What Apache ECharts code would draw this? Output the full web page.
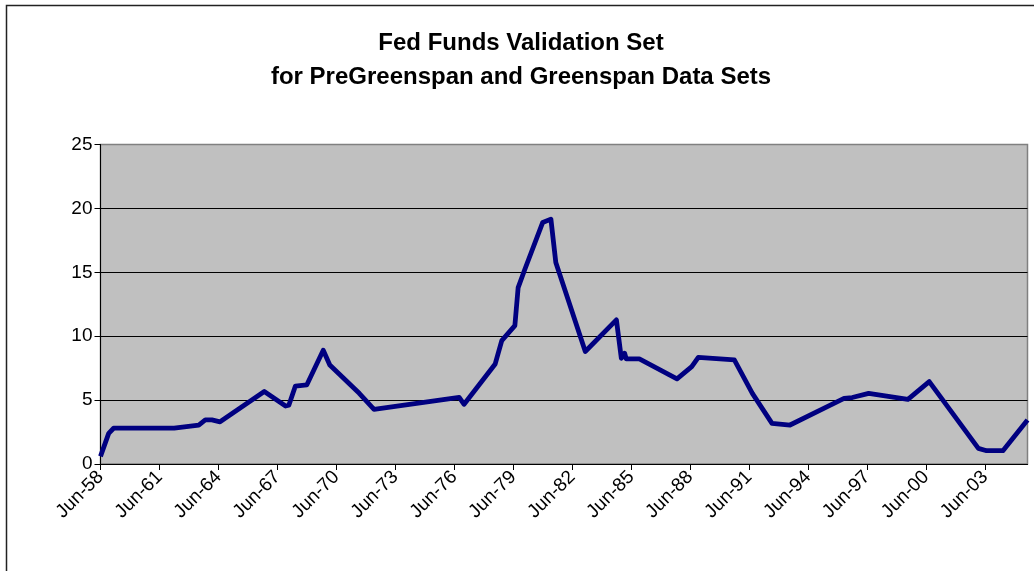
<!DOCTYPE html>
<html>
<head>
<meta charset="utf-8">
<script src="https://cdn.jsdelivr.net/npm/echarts@6/dist/echarts.min.js"></script>
<style>
html,body{margin:0;padding:0;background:#fff;}
#chart{width:1034px;height:571px;}
</style>
</head>
<body>
<div id="chart"></div>
<script>
const dates = ['1958-06','1958-11','1959-02','1962-03','1963-06','1963-10','1964-02','1964-07',
  '1966-10','1967-11','1968-01','1968-05','1968-12','1969-10','1970-02','1971-08','1972-05',
  '1976-09','1976-12','1978-07','1978-11','1979-07','1979-09','1980-01','1980-12','1981-05',
  '1981-08','1983-02','1984-09','1984-12','1985-02','1985-03','1985-11','1987-10','1988-07',
  '1988-11','1990-09','1991-08','1992-08','1993-07','1996-04','1996-09','1997-07','1999-07',
  '2000-08','2003-02','2003-07','2004-05','2005-08'];
const rates = [0.6,2.4,2.8,2.8,3.05,3.45,3.45,3.3,
  5.67,4.54,4.6,6.1,6.2,8.9,7.75,5.53,4.28,
  5.22,4.67,7.83,9.66,10.83,13.8,15.2,18.9,19.16,
  15.77,8.8,11.28,8.27,8.67,8.22,8.22,6.66,7.62,
  8.35,8.14,5.53,3.18,3.05,5.14,5.2,5.53,5.06,
  6.45,1.22,1.04,1.04,3.44];
const yTicks = [0,5,10,15,20,25];
const titleLines = ['Fed Funds Validation Set', 'for PreGreenspan and Greenspan Data Sets'];

const monthNames = ['Jan','Feb','Mar','Apr','May','Jun','Jul','Aug','Sep','Oct','Nov','Dec'];
const base = 1958*12 + 5; // Jun 1958
function offset(d){ const [y,m] = d.split('-').map(Number); return y*12 + (m-1) - base; }
function labelFor(v){ const t = base + Math.round(v); const y = Math.floor(t/12); const m = t%12;
  return monthNames[m] + '-' + String(y%100).padStart(2,'0'); }

const seriesData = dates.map((d,i)=>[offset(d), rates[i]]);
const xMax = offset(dates[dates.length-1]);

const chart = echarts.init(document.getElementById('chart'), null, {renderer:'canvas'});
const font = 'Liberation Sans, Arial, sans-serif';
const titleStyle = {fontFamily:font, fontSize:24, fontWeight:'bold', color:'#000'};
chart.setOption({
  animation:false,
  backgroundColor:'#fff',
  title:[
    {text:titleLines[0], left:521, top:31, textAlign:'center', padding:0, textStyle:titleStyle},
    {text:titleLines[1], left:521, top:65, textAlign:'center', padding:0, textStyle:titleStyle}
  ],
  graphic:[{type:'rect', shape:{x:6.5, y:5.5, width:1040, height:580}, style:{fill:'none', stroke:'#222', lineWidth:1.5}, silent:true}],
  grid:{left:100.5, top:144.5, right:6.5, bottom:107, show:true, backgroundColor:'#C0C0C0', borderColor:'#808080', borderWidth:1.5},
  xAxis:{type:'value', min:0, max:xMax, interval:36,
    axisLine:{show:true, lineStyle:{color:'#000', width:1}},
    axisTick:{show:true, inside:false, length:6, lineStyle:{color:'#000'}},
    splitLine:{show:false},
    axisLabel:{rotate:45, margin:10, fontFamily:font, fontSize:19, color:'#000', formatter:labelFor, showMaxLabel:false}
  },
  yAxis:{type:'value', min:yTicks[0], max:yTicks[yTicks.length-1], interval:5,
    axisLine:{show:true, lineStyle:{color:'#000', width:1}},
    axisTick:{show:true, inside:false, length:6, lineStyle:{color:'#000'}},
    splitLine:{show:true, showMaxLine:false, lineStyle:{color:'#000', width:1}},
    axisLabel:{margin:8, fontFamily:font, fontSize:19, color:'#000'}
  },
  series:[{type:'line', data:seriesData, showSymbol:false, symbol:'none',
    lineStyle:{color:'#000080', width:4.8, join:'round'}, clip:true}]
});
</script>
</body>
</html>
